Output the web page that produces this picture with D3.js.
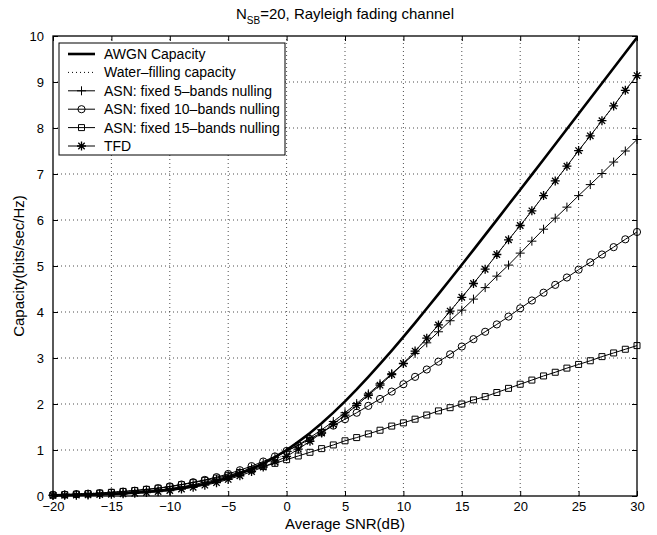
<!DOCTYPE html>
<html>
<head>
<meta charset="utf-8">
<script src="https://cdn.jsdelivr.net/npm/d3@7"></script>
<style>
  body { margin: 0; background: #fff; }
  text { font-family: "Liberation Sans", Arial, Helvetica, sans-serif; }
</style>
</head>
<body>
<div id="chart"></div>
<script>
// 1. DATA -------------------------------------------------------------------------
const snrDb = d3.range(-20, 31) // one point per dB

const awgnCap = [0.014,0.018,0.023,0.029,0.036,0.045,0.056,0.071,0.088,0.110,
  0.138,0.171,0.212,0.263,0.324,0.396,0.483,0.586,0.706,0.843,
  1.000,1.176,1.370,1.583,1.812,2.057,2.316,2.588,2.870,3.161,
  3.459,3.764,4.075,4.389,4.707,5.028,5.351,5.676,6.002,6.330,
  6.658,6.987,7.317,7.648,7.978,8.309,8.641,8.972,9.304,9.635,9.967]

const waterFillCap = [0.030,0.035,0.045,0.055,0.065,0.080,0.100,0.120,0.145,0.175,
  0.21,0.25,0.30,0.35,0.41,0.47,0.54,0.62,0.71,0.80,
  0.91,1.05,1.22,1.40,1.58,1.77,1.98,2.19,2.42,2.65,
  2.89,3.15,3.43,3.72,4.02,4.32,4.62,4.93,5.25,5.57,
  5.88,6.20,6.53,6.85,7.17,7.51,7.83,8.16,8.48,8.82,9.14]

const asn5Cap = [0.018,0.023,0.029,0.036,0.045,0.055,0.070,0.085,0.105,0.130,
  0.16,0.20,0.245,0.30,0.36,0.43,0.52,0.61,0.72,0.84,
  0.97,1.11,1.27,1.44,1.62,1.81,2.01,2.22,2.44,2.66,
  2.88,3.10,3.33,3.57,3.81,4.04,4.28,4.53,4.78,5.02,
  5.28,5.54,5.80,6.04,6.28,6.53,6.77,7.01,7.26,7.50,7.75]

const asn10Cap = [0.025,0.030,0.040,0.050,0.060,0.075,0.095,0.115,0.140,0.170,
  0.21,0.25,0.30,0.35,0.41,0.48,0.56,0.65,0.75,0.86,
  0.98,1.10,1.24,1.38,1.53,1.67,1.81,1.96,2.11,2.27,
  2.43,2.59,2.75,2.92,3.08,3.25,3.41,3.57,3.73,3.90,
  4.08,4.25,4.42,4.59,4.75,4.92,5.08,5.25,5.41,5.58,5.74]

const asn15Cap = [0.020,0.030,0.040,0.050,0.065,0.080,0.100,0.120,0.145,0.170,
  0.20,0.245,0.29,0.34,0.39,0.45,0.51,0.57,0.64,0.71,
  0.79,0.87,0.95,1.03,1.11,1.20,1.27,1.35,1.43,1.52,
  1.59,1.67,1.76,1.85,1.92,2.00,2.09,2.16,2.25,2.34,
  2.43,2.52,2.61,2.69,2.78,2.86,2.94,3.03,3.11,3.19,3.27]

const tfdCap = [0.012,0.015,0.019,0.024,0.030,0.038,0.048,0.060,0.075,0.095,
  0.12,0.15,0.19,0.235,0.29,0.36,0.44,0.53,0.63,0.74,
  0.86,1.02,1.19,1.37,1.56,1.76,1.97,2.19,2.41,2.64,
  2.88,3.15,3.43,3.72,4.02,4.32,4.62,4.93,5.25,5.57,
  5.88,6.20,6.53,6.85,7.17,7.51,7.83,8.16,8.48,8.82,9.14]

const xTicks = [-20, -15, -10, -5, 0, 5, 10, 15, 20, 25, 30]
const yTicks = [0, 1, 2, 3, 4, 5, 6, 7, 8, 9, 10]

const seriesNames = ["AWGN Capacity", "Water\u2013filling capacity",
  "ASN: fixed 5\u2013bands nulling", "ASN: fixed 10\u2013bands nulling",
  "ASN: fixed 15\u2013bands nulling", "TFD"]

// 2. LAYOUT -------------------------------------------------------------------------
const width = 657,
      height = 535,
      margin = { left: 53, right: 20, top: 36, bottom: 39 },
      tickLen = 5

const series = [
  { name: seriesNames[0], values: awgnCap,      width: 2.6, dash: null,  marker: null },
  { name: seriesNames[1], values: waterFillCap, width: 1,   dash: "1,3", marker: null },
  { name: seriesNames[2], values: asn5Cap,      width: 1,   dash: null,  marker: "plus" },
  { name: seriesNames[3], values: asn10Cap,     width: 1,   dash: null,  marker: "circle" },
  { name: seriesNames[4], values: asn15Cap,     width: 1,   dash: null,  marker: "square" },
  { name: seriesNames[5], values: tfdCap,       width: 1,   dash: null,  marker: "star" }
]

const x = d3.scaleLinear().domain([-20, 30]).range([margin.left, width - margin.right])
const y = d3.scaleLinear().domain([0, 10]).range([height - margin.bottom, margin.top])

const svg = d3.select("#chart").append("svg")
  .attr("width", width)
  .attr("height", height)

const fmt = d => d < 0 ? "\u2212" + Math.abs(d) : String(d)

// grid (dotted)
const grid = svg.append("g").attr("stroke", "#000").attr("stroke-width", 0.7)
  .attr("stroke-dasharray", "1,3")
grid.selectAll(".gx").data(xTicks.slice(1, -1)).join("line")
  .attr("x1", d => x(d)).attr("x2", d => x(d))
  .attr("y1", y(0)).attr("y2", y(10))
grid.selectAll(".gy").data(yTicks.slice(1, -1)).join("line")
  .attr("x1", x(-20)).attr("x2", x(30))
  .attr("y1", d => y(d)).attr("y2", d => y(d))

// axes with inward ticks on all four sides
const axisFont = g => g.selectAll("text")
  .attr("font-size", 13).attr("fill", "#000")
  .attr("font-family", "'Liberation Sans', Arial, sans-serif")

svg.append("g").attr("transform", `translate(0,${y(0)})`)
  .call(d3.axisBottom(x).tickValues(xTicks).tickFormat(fmt).tickSizeInner(-tickLen).tickSizeOuter(0).tickPadding(6))
  .call(axisFont)
  .call(g => g.select(".domain").remove())
svg.append("g").attr("transform", `translate(0,${y(10)})`)
  .call(d3.axisTop(x).tickValues(xTicks).tickFormat("").tickSizeInner(-tickLen).tickSizeOuter(0))
  .call(g => g.select(".domain").remove())
svg.append("g").attr("transform", `translate(${x(-20)},0)`)
  .call(d3.axisLeft(y).tickValues(yTicks).tickFormat(d3.format("d")).tickSizeInner(-tickLen).tickSizeOuter(0).tickPadding(9))
  .call(axisFont)
  .call(g => g.select(".domain").remove())
svg.append("g").attr("transform", `translate(${x(30)},0)`)
  .call(d3.axisRight(y).tickValues(yTicks).tickFormat("").tickSizeInner(-tickLen).tickSizeOuter(0))
  .call(g => g.select(".domain").remove())

// 3. SERIES -------------------------------------------------------------------------
const markerPath = {
  plus:   "M-4.5,0H4.5M0,-4.5V4.5",
  star:   "M-4.5,0H4.5M0,-4.5V4.5M-3.2,-3.2L3.2,3.2M-3.2,3.2L3.2,-3.2",
  square: "M-3,-3H3V3H-3Z"
}

const drawMarker = (sel, type) => {
  if (type === "circle") {
    sel.append("circle").attr("r", 3.6).attr("fill", "none").attr("stroke", "#000").attr("stroke-width", 1)
  } else {
    sel.append("path").attr("d", markerPath[type]).attr("fill", "none").attr("stroke", "#000")
      .attr("stroke-width", type === "star" ? 1.3 : 1)
  }
}

const line = d3.line().x((d, i) => x(snrDb[i])).y(d => y(d))

const plot = svg.append("g")
series.slice().reverse().forEach(s => {
  plot.append("path")
    .datum(s.values)
    .attr("d", line)
    .attr("fill", "none")
    .attr("stroke", "#000")
    .attr("stroke-width", s.width)
    .attr("stroke-dasharray", s.dash)
  if (s.marker) {
    plot.append("g").selectAll("g").data(s.values).join("g")
      .attr("transform", (d, i) => `translate(${x(snrDb[i])},${y(d)})`)
      .each(function() { drawMarker(d3.select(this), s.marker) })
  }
})

// axes box
svg.append("rect")
  .attr("x", x(-20)).attr("y", y(10))
  .attr("width", x(30) - x(-20)).attr("height", y(0) - y(10))
  .attr("fill", "none").attr("stroke", "#000").attr("stroke-width", 1.3)

// 4. LEGEND -------------------------------------------------------------------------
const legend = svg.append("g").attr("transform", "translate(59,43)")
legend.append("rect")
  .attr("width", 226).attr("height", 112)
  .attr("fill", "#fff").attr("stroke", "#000").attr("stroke-width", 1)

series.forEach((s, i) => {
  const row = legend.append("g").attr("transform", `translate(0,${11 + i * 18.4})`)
  row.append("line")
    .attr("x1", 9).attr("x2", 36).attr("y1", 0).attr("y2", 0)
    .attr("stroke", "#000")
    .attr("stroke-width", s.width)
    .attr("stroke-dasharray", s.dash)
  if (s.marker) drawMarker(row.append("g").attr("transform", "translate(22.5,0)"), s.marker)
  row.append("text")
    .attr("x", 45).attr("y", 5)
    .attr("font-size", 14)
    .text(s.name)
})

// 5. TITLES -------------------------------------------------------------------------
const title = svg.append("text")
  .attr("x", (x(-20) + x(30)) / 2).attr("y", 19)
  .attr("text-anchor", "middle")
  .attr("font-size", 15)
title.append("tspan").text("N")
title.append("tspan").attr("font-size", 10).attr("dy", 5).text("SB")
title.append("tspan").attr("dy", -5).text("=20, Rayleigh fading channel")

svg.append("text")
  .attr("x", (x(-20) + x(30)) / 2).attr("y", 529)
  .attr("text-anchor", "middle")
  .attr("font-size", 15)
  .text("Average SNR(dB)")

svg.append("text")
  .attr("transform", `translate(19,${(y(0) + y(10)) / 2}) rotate(-90)`)
  .attr("text-anchor", "middle")
  .attr("dy", 5)
  .attr("font-size", 15)
  .text("Capacity(bits/sec/Hz)")
</script>
</body>
</html>
